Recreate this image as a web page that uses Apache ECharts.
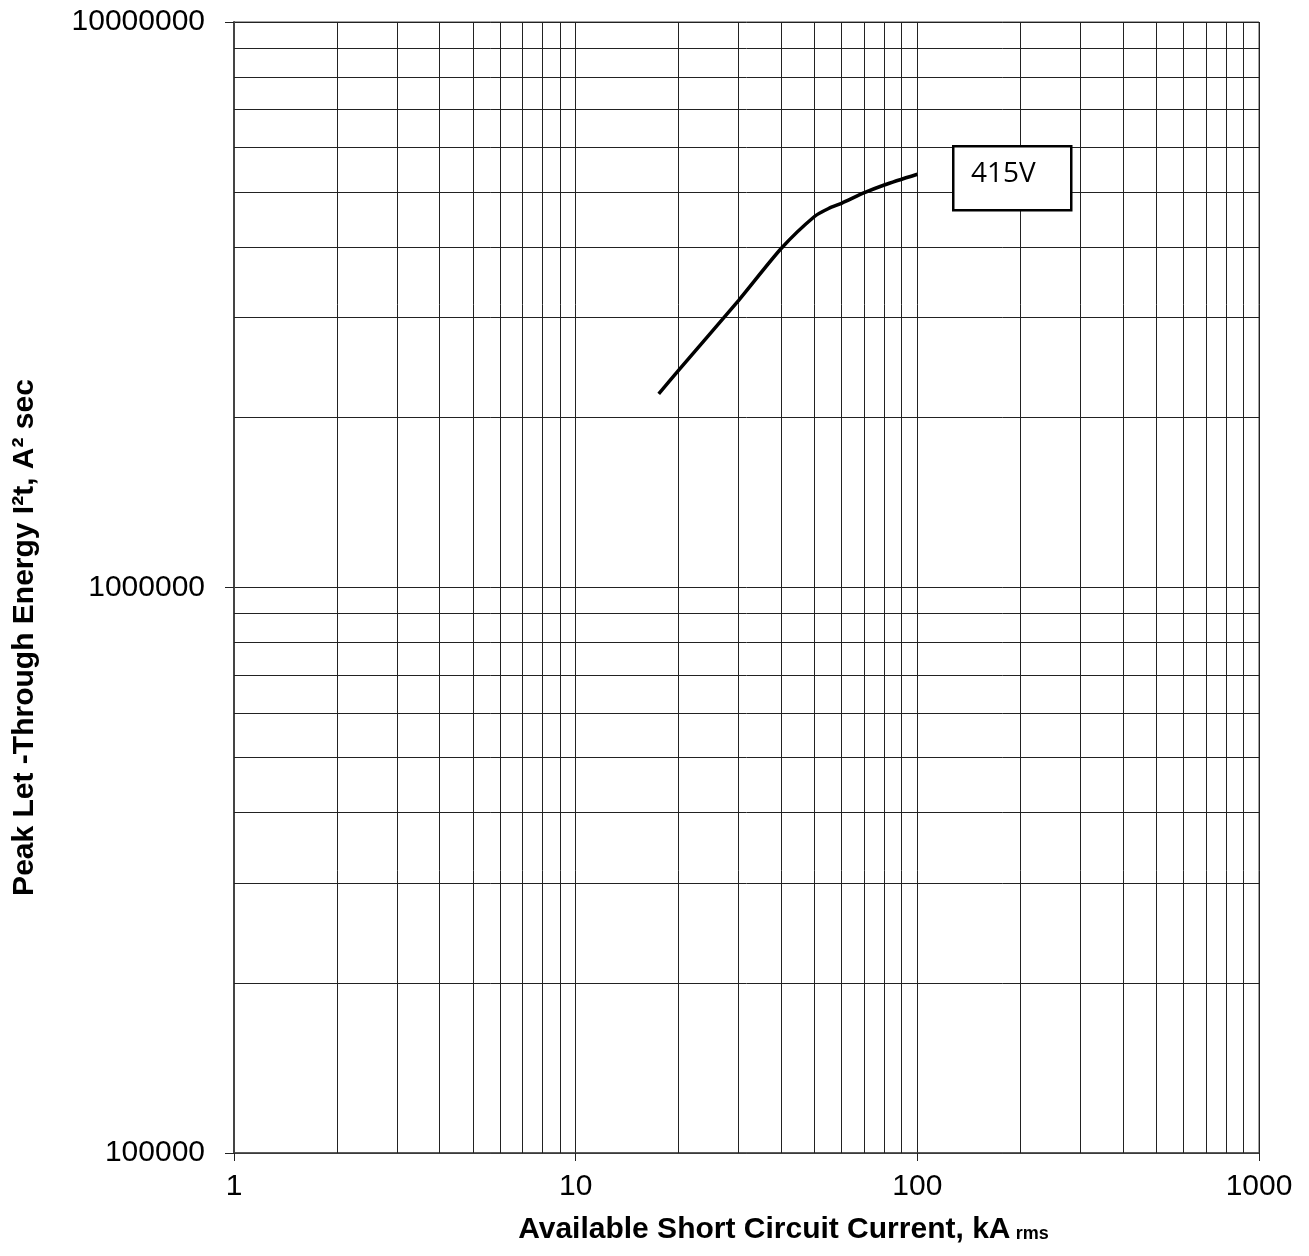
<!DOCTYPE html>
<html>
<head>
<meta charset="utf-8">
<script src="https://cdn.jsdelivr.net/npm/echarts@6/dist/echarts.min.js"></script>
<style>
html,body{margin:0;padding:0;background:#fff;}
#chart{width:1309px;height:1256px;}
</style>
</head>
<body>
<div id="chart"></div>
<script>
// Data
var currentKA = [17.5, 20, 30, 40, 50, 55, 60, 70, 80, 100];
var letThrough = [2.2e6, 2.42e6, 3.22e6, 3.98e6, 4.53e6, 4.68e6, 4.78e6, 4.99e6, 5.15e6, 5.38e6];
var seriesLabel = '415V';
var xMinorGrid = [2,3,4,5,6,7,8,9,20,30,40,50,60,70,80,90,200,300,400,500,600,700,800,900];
var yMinorGrid = [2e5,3e5,4e5,5e5,6e5,7e5,8e5,9e5,2e6,3e6,4e6,5e6,6e6,7e6,8e6,9e6];
var xName = 'Available Short Circuit Current, kA';
var xNameSub = 'rms';
var yName = 'Peak Let -Through Energy I\u00B2t, A\u00B2 sec';

var chart = echarts.init(document.getElementById('chart'));
var pts = currentKA.map(function(x, i){ return [x, letThrough[i]]; });
var gridMarks = xMinorGrid.map(function(v){ return {xAxis: v}; })
  .concat(yMinorGrid.map(function(v){ return {yAxis: v}; }));

var font = 'Liberation Sans, Arial, sans-serif';
chart.setOption({
  animation: false,
  backgroundColor: '#fff',
  grid: {left: 234, right: 50, top: 22, bottom: 103, show: true, borderColor: '#444', borderWidth: 1},
  xAxis: {
    type: 'log', logBase: 10, min: 1, max: 1000,
    name: '{a|' + xName + '} {b|' + xNameSub + '}',
    nameLocation: 'middle', nameGap: 62,
    nameTextStyle: {
      padding: [0, 0, 0, 74],
      rich: {
        a: {fontFamily: font, fontSize: 30, fontWeight: 'bold', color: '#000'},
        b: {fontFamily: font, fontSize: 18, fontWeight: 'bold', color: '#000', padding: [8,0,0,2]}
      }
    },
    axisLine: {show: true, lineStyle: {color: '#444', width: 1.5}},
    axisTick: {show: true, length: 8, inside: false, lineStyle: {color: '#222'}},
    axisLabel: {fontFamily: font, fontSize: 30, color: '#000', margin: 19,
      formatter: function(v){ return String(Math.round(v)); }},
    splitLine: {show: true, lineStyle: {color: '#222', width: 1}},
    minorTick: {show: false}
  },
  yAxis: {
    type: 'log', logBase: 10, min: 100000, max: 10000000,
    name: yName, nameLocation: 'middle', nameGap: 194, nameRotate: 90,
    nameTextStyle: {fontFamily: font, fontSize: 30, fontWeight: 'bold', color: '#000', padding: [0, 100, 0, 0]},
    axisLine: {show: true, lineStyle: {color: '#444', width: 2}},
    axisTick: {show: true, length: 9, inside: false, lineStyle: {color: '#222'}},
    axisLabel: {fontFamily: font, fontSize: 30, color: '#000', margin: 29,
      formatter: function(v){ return String(Math.round(v)); }},
    splitLine: {show: true, lineStyle: {color: '#222', width: 1}}
  },
  series: [{
    type: 'line',
    data: pts,
    smooth: 0.25,
    showSymbol: false,
    lineStyle: {color: '#000', width: 3.5},
    z: 5,
    markLine: {
      silent: true, symbol: 'none', animation: false,
      label: {show: false},
      lineStyle: {color: '#222', width: 1, type: 'solid'},
      data: gridMarks,
      z: 1
    }
  }],
  graphic: [{
    type: 'rect', left: 952, top: 145,
    shape: {width: 118, height: 64},
    style: {fill: '#fff', stroke: '#000', lineWidth: 2.5},
    z: 10
  }, {
    type: 'text', left: 971, top: 160,
    style: {text: seriesLabel, fontFamily: 'Open Sans, sans-serif', fontSize: 28, fill: '#000'},
    z: 11
  }]
});
</script>
</body>
</html>
